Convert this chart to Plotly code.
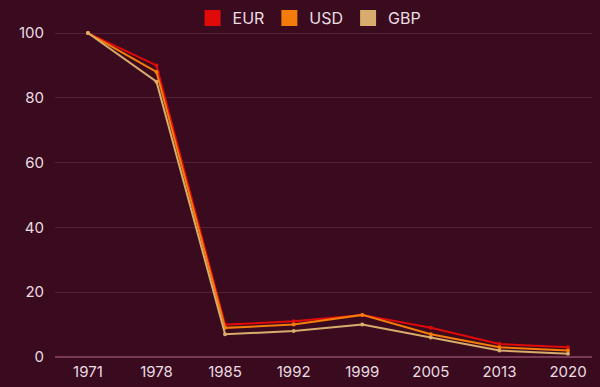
import plotly.graph_objects as go

years = ["1971", "1978", "1985", "1992", "1999", "2005", "2013", "2020"]
eur = [100, 90, 10, 11, 13, 9, 4, 3]
usd = [100, 88, 9, 10, 13, 7, 3, 2]
gbp = [100, 85, 7, 8, 10, 6, 2, 1]

series = [("EUR", eur, "#e00a0a"), ("USD", usd, "#f57c0a"), ("GBP", gbp, "#d8ac6c")]

bg = "#3a0b1e"
txt = "#eadde2"

fig = go.Figure()
for name, vals, col in series:
    fig.add_trace(go.Scatter(
        x=years, y=vals, mode="lines+markers", name=name,
        line=dict(color=col, width=2), marker=dict(color=col, size=4),
        legendgroup=name, showlegend=False,
    ))
for name, vals, col in series:
    fig.add_trace(go.Scatter(
        x=[None], y=[None], mode="markers", name=name,
        marker=dict(color=col, size=16, symbol="square"),
        legendgroup=name, showlegend=True,
    ))

fig.update_layout(
    width=600, height=387,
    paper_bgcolor=bg, plot_bgcolor=bg,
    margin=dict(l=55, r=8, t=0, b=30, autoexpand=False),
    font=dict(family="Inter, Roboto, sans-serif", size=15, color=txt),
    legend=dict(orientation="h", x=0.474, xanchor="center", y=(357 - 18) / 357, yanchor="middle",
                font=dict(size=16, color=txt), bgcolor="rgba(0,0,0,0)",
                itemwidth=30, tracegroupgap=0),
    xaxis=dict(type="category", range=[-0.48, 7.35], showgrid=False, zeroline=False,
               showline=False, ticks="", ticklabelstandoff=4, automargin=False),
    yaxis=dict(range=[0, 110.2], tickvals=[0, 20, 40, 60, 80, 100], showgrid=True,
               gridcolor="#55203a", gridwidth=1, zeroline=True, zerolinecolor="#7a3a55",
               zerolinewidth=1.5, showline=False, ticks="", ticklabelstandoff=10,
               automargin=False),
)

fig.write_html("out.html", config={"displayModeBar": False},
               post_script="document.body.style.margin='0px';document.body.style.background='%s';" % bg)
